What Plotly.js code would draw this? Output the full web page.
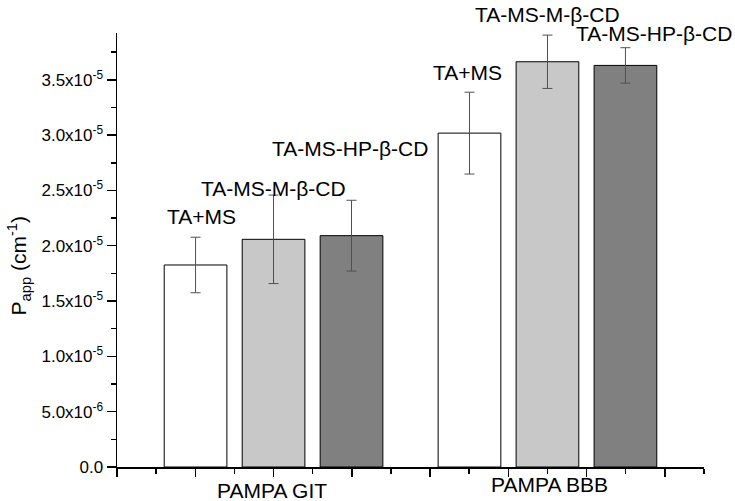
<!DOCTYPE html>
<html>
<head>
<meta charset="utf-8">
<script src="https://cdn.plot.ly/plotly-3.0.1.min.js"></script>
<style>html,body{margin:0;padding:0;background:#fff;}#chart{width:735px;height:501px;}</style>
</head>
<body>
<div id="chart"></div>
<script>
// ---- data ----
const categories = ["PAMPA GIT", "PAMPA BBB"];
const seriesNames = ["TA+MS", "TA-MS-M-\u03B2-CD", "TA-MS-HP-\u03B2-CD"];
const taMs      = [1.826e-5, 3.018e-5];
const taMsM     = [2.058e-5, 3.663e-5];
const taMsHP    = [2.091e-5, 3.630e-5];
const taMsErr   = [0.251e-5, 0.370e-5];
const taMsMErr  = [0.400e-5, 0.241e-5];
const taMsHPErr = [0.320e-5, 0.160e-5];
const yTickVals = [0, 5e-6, 1e-5, 1.5e-5, 2e-5, 2.5e-5, 3e-5, 3.5e-5];
const yTickText = ["0.0", "5.0x10<sup>-6</sup>", "1.0x10<sup>-5</sup>", "1.5x10<sup>-5</sup>",
                   "2.0x10<sup>-5</sup>", "2.5x10<sup>-5</sup>", "3.0x10<sup>-5</sup>", "3.5x10<sup>-5</sup>"];
const yTitle = 'P<sub>app</sub> (cm<sup>-1</sup>)';

// ---- styles / positions ----
const FONT = '"Liberation Sans", Arial, Helvetica, sans-serif';
const fills = ["#ffffff", "#c8c8c8", "#808080"];
const values = [taMs, taMsM, taMsHP];
const errors = [taMsErr, taMsMErr, taMsHPErr];
const xIdx = categories.map((c, i) => i);

// label positions [series][group]: x in axis units, y in paper units
const labelX = [[-0.262, 0.709], [0.0, 1.0], [0.278, 1.39]];
const labelY = [[0.578, 0.908], [0.642, 1.042], [0.734, 1.000]];
const catLabelX = [-0.006, 1.008];
const catLabelY = [-0.053, -0.040];

const traces = seriesNames.map((name, s) => ({
  type: 'bar',
  name: name,
  x: xIdx,
  y: values[s],
  marker: {color: fills[s], line: {color: '#000', width: 1}},
  error_y: {type: 'data', array: errors[s], visible: true, color: '#505050', thickness: 1, width: 5},
  showlegend: false,
  hoverinfo: 'skip'
}));

const annotations = [];
seriesNames.forEach((name, s) => {
  xIdx.forEach((xi, g) => {
    annotations.push({
      x: labelX[s][g], y: labelY[s][g], xref: 'x', yref: 'paper',
      text: name, showarrow: false, xanchor: 'center', yanchor: 'middle',
      font: {family: FONT, size: 21, color: '#000'}
    });
  });
});
categories.forEach((c, i) => {
  annotations.push({
    x: catLabelX[i], y: catLabelY[i], xref: 'x', yref: 'paper',
    text: c, showarrow: false, xanchor: 'center', yanchor: 'middle',
    font: {family: FONT, size: 21, color: '#000'}
  });
});
annotations.push({
  x: -0.168, y: 0.463, xref: 'paper', yref: 'paper', textangle: -90,
  text: yTitle, showarrow: false, xanchor: 'center', yanchor: 'middle',
  font: {family: FONT, size: 21, color: '#000'}
});

const layout = {
  width: 735, height: 501,
  margin: {l: 117, r: 31, t: 33, b: 34, pad: 0},
  paper_bgcolor: '#fff', plot_bgcolor: '#fff',
  barmode: 'group', bargap: 0.146, bargroupgap: 0.196,
  font: {family: FONT, size: 17, color: '#000'},
  xaxis: {
    range: [-4/7, 1 + 4/7], showgrid: false, zeroline: false,
    showline: true, linecolor: '#000', linewidth: 1.5,
    tickmode: 'linear', tick0: -4/7, dtick: 2/7,
    ticks: 'outside', ticklen: 8, tickwidth: 1.5, tickcolor: '#000',
    showticklabels: false,
    minor: {tickmode: 'linear', tick0: -4/7, dtick: 1/7, ticks: 'outside', ticklen: 5, tickwidth: 1.5, tickcolor: '#000', showgrid: false}
  },
  yaxis: {
    range: [0, 3.923e-5], showgrid: false, zeroline: false,
    showline: true, linecolor: '#000', linewidth: 1.5,
    tickmode: 'array', tickvals: yTickVals, ticktext: yTickText,
    ticks: 'outside', ticklen: 9, tickwidth: 1.5, tickcolor: '#000',
    tickfont: {family: FONT, size: 17, color: '#000'},
    minor: {tickmode: 'linear', tick0: 0, dtick: 2.5e-6, ticks: 'outside', ticklen: 5, tickwidth: 1.5, tickcolor: '#000', showgrid: false}
  },
  annotations: annotations
};

Plotly.newPlot('chart', traces, layout, {displayModeBar: false, staticPlot: true});
</script>
</body>
</html>
